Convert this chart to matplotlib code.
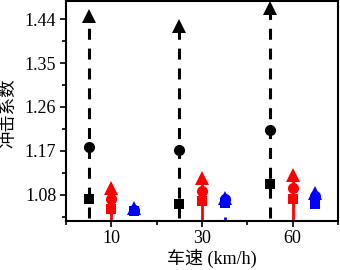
import matplotlib
matplotlib.use("Agg")
import matplotlib.pyplot as plt
import numpy as np
from matplotlib.ticker import MultipleLocator, FixedLocator

plt.rcParams['font.family'] = ['Liberation Serif', 'Noto Sans CJK SC']

speeds = ['10', '30', '60']
# series: black, red, blue ; each has square, circle, triangle values
black_sq = [1.071, 1.062, 1.102]
black_ci = [1.178, 1.171, 1.212]
black_tr = [1.446, 1.426, 1.462]
black_low = [1.032, 1.032, 1.032]

red_sq = [1.051, 1.068, 1.072]
red_ci = [1.072, 1.087, 1.094]
red_tr = [1.094, 1.114, 1.121]
red_low = [1.0, 1.0, 1.0]

blue_sq = [1.046, 1.064, 1.062]
blue_ci = [1.049, 1.071, 1.078]
blue_tr = [1.052, 1.073, 1.083]
blue_low = [1.02, 1.027, 1.027]
blue_high = [1.02, 1.035, 1.029]

fig = plt.figure(figsize=(3.4, 2.7), dpi=100)
ax = fig.add_axes([0.194, 0.183, 0.8, 0.813])

x = np.arange(1, len(speeds) + 1)
dash = (0, (3.6, 2.9))
groups = [
    (-0.25, 'black', dash, 2.2, black_low, black_tr, black_sq, black_ci, black_tr),
    (0.0, 'red', '-', 2.0, red_low, red_tr, red_sq, red_ci, red_tr),
    (0.25, 'blue', '-', 2.0, blue_low, blue_high, blue_sq, blue_ci, blue_tr),
]
for off, c, ls, lw, low, high, sq, ci, tr in groups:
    xs = x + off
    ax.vlines(xs, low, high, colors=c, linestyles=ls, linewidth=lw, zorder=2)
    ax.plot(xs, sq, 's', color=c, ms=7.2, zorder=3, markeredgewidth=0)
    ax.plot(xs, ci, 'o', color=c, ms=8, zorder=3, markeredgewidth=0)
    ax.plot(xs, tr, '^', color=c, ms=10.5, zorder=3, markeredgewidth=0)

ax.set_xlim(0.5, 3.5)
ax.set_ylim(1.027, 1.477)
ax.set_xticks(x)
ax.set_xticklabels(speeds)
ax.xaxis.set_minor_locator(FixedLocator([0.5, 1.5, 2.5, 3.5]))
ax.set_yticks([1.08, 1.17, 1.26, 1.35, 1.44])
ax.set_yticklabels(['1.08', '1.17', '1.26', '1.35', '1.44'])
ax.yaxis.set_minor_locator(MultipleLocator(0.045))

ax.tick_params(axis='both', which='major', direction='out', length=4, width=1.2,
               labelsize=13, pad=3)
ax.tick_params(axis='both', which='minor', direction='out', length=3, width=1.2)
for s in ax.spines.values():
    s.set_linewidth(1.5)

ax.set_xlabel('车速 (km/h)', fontsize=13)
ax.set_ylabel('冲击系数', fontsize=12.5)
ax.xaxis.set_label_coords(0.535, -0.13)
ax.yaxis.set_label_coords(-0.178, 0.49)

fig.savefig('out.png', dpi=100)
